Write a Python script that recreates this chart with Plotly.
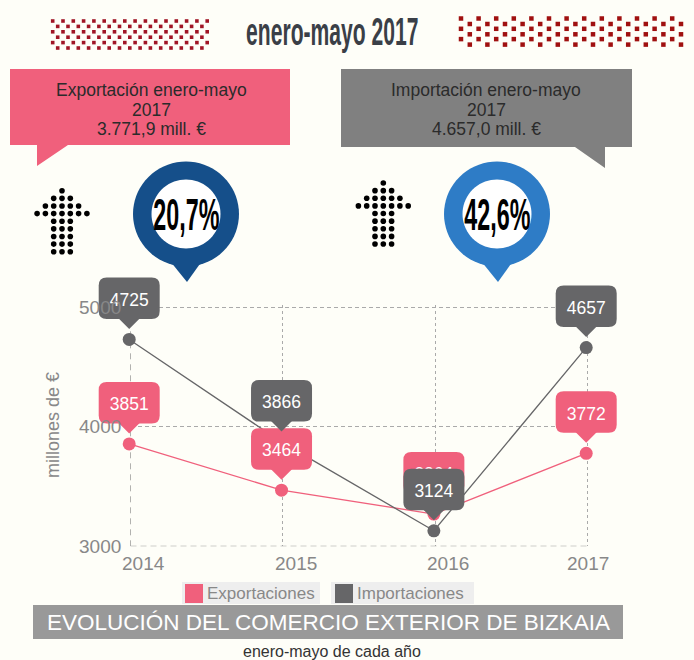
import numpy as np
import plotly.graph_objects as go

YEARS = [2014, 2015, 2016, 2017]
EXPORTACIONES = [3851, 3464, 3264, 3772]
IMPORTACIONES = [4725, 3866, 3124, 4657]
YEAR_LABELS = ["2014", "2015", "2016", "2017"]
Y_TICKS = [3000, 4000, 5000]
PINK = "#F0607C"
DARK = "#666668"
BG = "#FEFEF8"
W, H = 694, 660
SANS = "Liberation Sans, Arial, sans-serif"
AX_L, AX_R, AX_T, AX_B = 130.5, 587.5, 307.3, 546.3
PAD = 2  # px of extra axis so the last grid lines are kept


def fx(p):
    return p / W


def fy(p):
    return 1 - p / H


def ppath(points):
    return "M" + " L".join(f"{fx(x):.5f},{fy(y):.5f}" for x, y in points) + " Z"


shapes = []
annotations = []


def rect(x0, y0, x1, y1, color):
    shapes.append(dict(type="rect", xref="paper", yref="paper", x0=fx(x0), x1=fx(x1), y0=fy(y1), y1=fy(y0),
                       fillcolor=color, line_width=0, layer="above"))


def text(x, y, s, size, color, font=SANS, **kw):
    annotations.append(dict(xref="paper", yref="paper", x=fx(x), y=fy(y), text=s, showarrow=False,
                            font=dict(size=size, color=color, family=font), xanchor="center", yanchor="middle", **kw))


# Callout boxes
shapes.append(dict(type="path", xref="paper", yref="paper", layer="above", fillcolor=PINK, line_width=0,
                   path=ppath([(10, 69), (290, 69), (290, 145), (68, 145), (37, 166), (37, 145), (10, 145)])))
shapes.append(dict(type="path", xref="paper", yref="paper", layer="above", fillcolor="#808080", line_width=0,
                   path=ppath([(341, 69), (632, 69), (632, 147), (605, 147), (605, 168), (575, 147), (341, 147)])))
for cx, lines in [(151, ["Exportación enero-mayo", "2017", "3.771,9 mill. €"]),
                  (486, ["Importación enero-mayo", "2017", "4.657,0 mill. €"])]:
    for yy, line in zip([90.5, 110, 129.5], lines):
        text(cx, yy, line, 17.5, "#2b2b2b")
text(332.5, 32, "<b>enero-mayo 2017</b>", 38, "#3a3f47")


# Map pins
def pin(cx, cy, tip_y, color, label):
    t = np.linspace(0, 2 * np.pi, 73)
    ring = [(cx + 53 * np.cos(a), cy + 52.5 * np.sin(a)) for a in t]
    shapes.append(dict(type="path", xref="paper", yref="paper", layer="above", fillcolor=color, line_width=0,
                       path=ppath(ring)))
    shapes.append(dict(type="path", xref="paper", yref="paper", layer="above", fillcolor=color, line_width=0,
                       path=ppath([(cx - 16, cy + 47), (cx + 16, cy + 47), (cx + 1, tip_y)])))
    hole = [(cx + 34.5 * np.cos(a), cy + 34.5 * np.sin(a)) for a in t]
    shapes.append(dict(type="path", xref="paper", yref="paper", layer="above", fillcolor="#FFFFFF", line_width=0,
                       path=ppath(hole)))
    text(cx, cy, f"<b>{label}</b>", 44, "#000000")


pin(186, 214, 282, "#154F8A", "20,7%")
pin(497, 214, 282, "#2E7CC6", "42,6%")

# Bottom band, legend
rect(33, 605, 623, 639, "#999999")
text(328, 622, "EVOLUCIÓN DEL COMERCIO EXTERIOR DE BIZKAIA", 22.5, "#FFFFFF")
text(332, 651, "enero-mayo de cada año", 16, "#333333")
rect(182, 582, 320, 604, "#EEEEEE")
rect(331, 582, 474, 604, "#EEEEEE")
rect(185, 584, 203, 603, PINK)
rect(335, 584, 353, 603, DARK)
text(261, 593, "Exportaciones", 17, "#888888")
text(411, 593, "Importaciones", 17, "#888888")

# Axis labels
text(53, 425, "millones de €", 18, "#888888", textangle=-90)
for v in Y_TICKS:
    annotations.append(dict(xref="paper", yref="y", x=fx(123), y=v, text=str(v), showarrow=False,
                            xanchor="right", yanchor="middle", font=dict(size=19, color="#888888", family=SANS)))
for yr, lab, shift in zip(YEARS, YEAR_LABELS, [13, 13, 13, 0]):
    annotations.append(dict(xref="x", yref="paper", x=yr, xshift=shift, y=fy(563), text=lab, showarrow=False,
                            xanchor="center", yanchor="middle", font=dict(size=19, color="#888888", family=SANS)))

# Axis-like dashed lines
shapes.append(dict(type="line", xref="x", yref="y", x0=YEARS[0], x1=YEARS[0], y0=3000, y1=5000, layer="between",
                   line=dict(color="#666666", width=1, dash="6px,5px")))
shapes.append(dict(type="line", xref="x", yref="y", x0=YEARS[0], x1=YEARS[-1], y0=3000, y1=3000, layer="between",
                   line=dict(color="#888888", width=1, dash="6px,4px")))


# Value bubbles in pixel offsets from each data point; x3/y3 is the data scale stretched over the whole page,
# so that neither the marks nor the bubbles are clipped by the plot area.
def bubble(xv, yv, color):
    hw, bot, top, r = 30.5, 20.5, 62, 8
    a = dict(type="path", xref="x3", yref="y3", xsizemode="pixel", ysizemode="pixel", xanchor=xv, yanchor=yv,
             layer="above", fillcolor=color, line_width=0)
    body = (f"M{-hw + r},{top} L{hw - r},{top} Q{hw},{top} {hw},{top - r} L{hw},{bot + r} Q{hw},{bot} {hw - r},{bot} "
            f"L{-hw + r},{bot} Q{-hw},{bot} {-hw},{bot + r} L{-hw},{top - r} Q{-hw},{top} {-hw + r},{top} Z")
    shapes.append(dict(a, path=f"M-11,{bot + 1} L11,{bot + 1} L0,10.5 Z"))
    shapes.append(dict(a, path=body, label=dict(text=str(yv), font=dict(size=17.5, color="#FFFFFF", family=SANS),
                                               textposition="middle center", padding=0)))


for x_, y_ in zip(YEARS, EXPORTACIONES):
    bubble(x_, y_, PINK)
for x_, y_ in zip(YEARS, IMPORTACIONES):
    bubble(x_, y_, DARK)

fig = go.Figure()

# Decorative dot bands and dotted arrows on a hidden full-page pixel axis
bx, by = [], []
for r in range(6):
    offs = 0 if r % 2 == 0 else 5
    n = 16 if r % 2 == 0 else 15
    for c in range(n):
        bx.append(52.7 + offs + c * 10.3)
        by.append(21 + r * 5.4)
fig.add_trace(go.Scatter(x=bx, y=by, xaxis="x2", yaxis="y2", mode="markers", hoverinfo="skip", showlegend=False,
                         marker=dict(symbol="square", size=3.6, color="#A01525")))
bx, by = [], []
for r in range(6):
    offs = 0 if r % 2 == 0 else 8.8
    y_ = 18.5 + (r // 2) * 10.3 + (5.5 if r % 2 else 0)
    for c in range(13):
        bx.append(461 + offs + c * 17.6)
        by.append(y_)
fig.add_trace(go.Scatter(x=bx, y=by, xaxis="x2", yaxis="y2", mode="markers", hoverinfo="skip", showlegend=False,
                         marker=dict(symbol="square", size=4.5, color="#A01010")))


def arrow(cx, top):
    ax, ay = [], []
    for r, n in enumerate([1, 3, 5, 7, 3, 3, 3, 3, 3]):
        for c in range(n):
            ax.append(cx + (c - (n - 1) / 2) * 8.3)
            ay.append(top + r * 7.63)
    return ax, ay


for cx, top in [(62, 190.7), (383.3, 183)]:
    ax_, ay_ = arrow(cx, top)
    fig.add_trace(go.Scatter(x=ax_, y=ay_, xaxis="x2", yaxis="y2", mode="markers", hoverinfo="skip", showlegend=False,
                             marker=dict(size=5.6, color="#000000")))

# Data
fig.add_trace(go.Scatter(x=YEARS, y=EXPORTACIONES, xaxis="x3", yaxis="y3", name="Exportaciones",
                         mode="lines+markers", showlegend=False,
                         line=dict(color=PINK, width=1.3), marker=dict(size=13, color=PINK)))
fig.add_trace(go.Scatter(x=YEARS, y=IMPORTACIONES, xaxis="x3", yaxis="y3", name="Importaciones",
                         mode="lines+markers", showlegend=False,
                         line=dict(color=DARK, width=1.3), marker=dict(size=13, color=DARK)))

x_per_px = (YEARS[-1] - YEARS[0]) / (AX_R - AX_L)
y_per_px = (Y_TICKS[-1] - Y_TICKS[0]) / (AX_B - AX_T)
POINT_L = AX_L - 1.3  # the points sit a pixel left of their grid lines
fig.update_layout(
    width=W, height=H, margin=dict(l=0, r=0, t=0, b=0), paper_bgcolor=BG, plot_bgcolor="rgba(0,0,0,0)",
    showlegend=False, shapes=shapes, annotations=annotations,
    xaxis=dict(domain=[fx(AX_L), fx(AX_R + PAD)], range=[YEARS[0], YEARS[-1] + PAD * x_per_px], tickvals=YEARS,
               showticklabels=False, showgrid=True, gridcolor="#AAAAAA", griddash="3px,3px", gridwidth=1,
               zeroline=False, showline=False, anchor="y"),
    yaxis=dict(domain=[fy(AX_B), fy(AX_T - PAD)], range=[Y_TICKS[0], Y_TICKS[-1] + PAD * y_per_px], tickvals=Y_TICKS,
               showticklabels=False, showgrid=True, gridcolor="#AAAAAA", griddash="4px,3px", gridwidth=1,
               zeroline=False, showline=False, anchor="x"),
    xaxis2=dict(domain=[0, 1], range=[0, W], visible=False, anchor="y2"),
    yaxis2=dict(domain=[0, 1], range=[H, 0], visible=False, anchor="x2"),
    xaxis3=dict(domain=[0, 1], range=[YEARS[0] - POINT_L * x_per_px, YEARS[0] + (W - POINT_L) * x_per_px],
                visible=False, anchor="y3"),
    yaxis3=dict(domain=[0, 1], range=[Y_TICKS[0] - (H - AX_B + 0.7) * y_per_px, Y_TICKS[-1] + (AX_T - 0.7) * y_per_px],
                visible=False, anchor="x3"),
)
# The reference uses condensed display type; no condensed face is installed, so narrow the real text horizontally.
POST = """
document.body.style.margin = '0';
document.querySelectorAll('.annotation-text').forEach(function (t) {
  var s = t.textContent, k = 0;
  if (s === 'enero-mayo 2017') k = 0.555;
  if (s === '20,7%' || s === '42,6%') k = 0.53;
  if (k) {
    var b = t.getBBox(), c = b.x + b.width / 2;
    t.setAttribute('transform', 'translate(' + c * (1 - k) + ',0) scale(' + k + ',1)');
  }
});
"""
fig.write_html("out.html", config=dict(displayModeBar=False), post_script=POST)
